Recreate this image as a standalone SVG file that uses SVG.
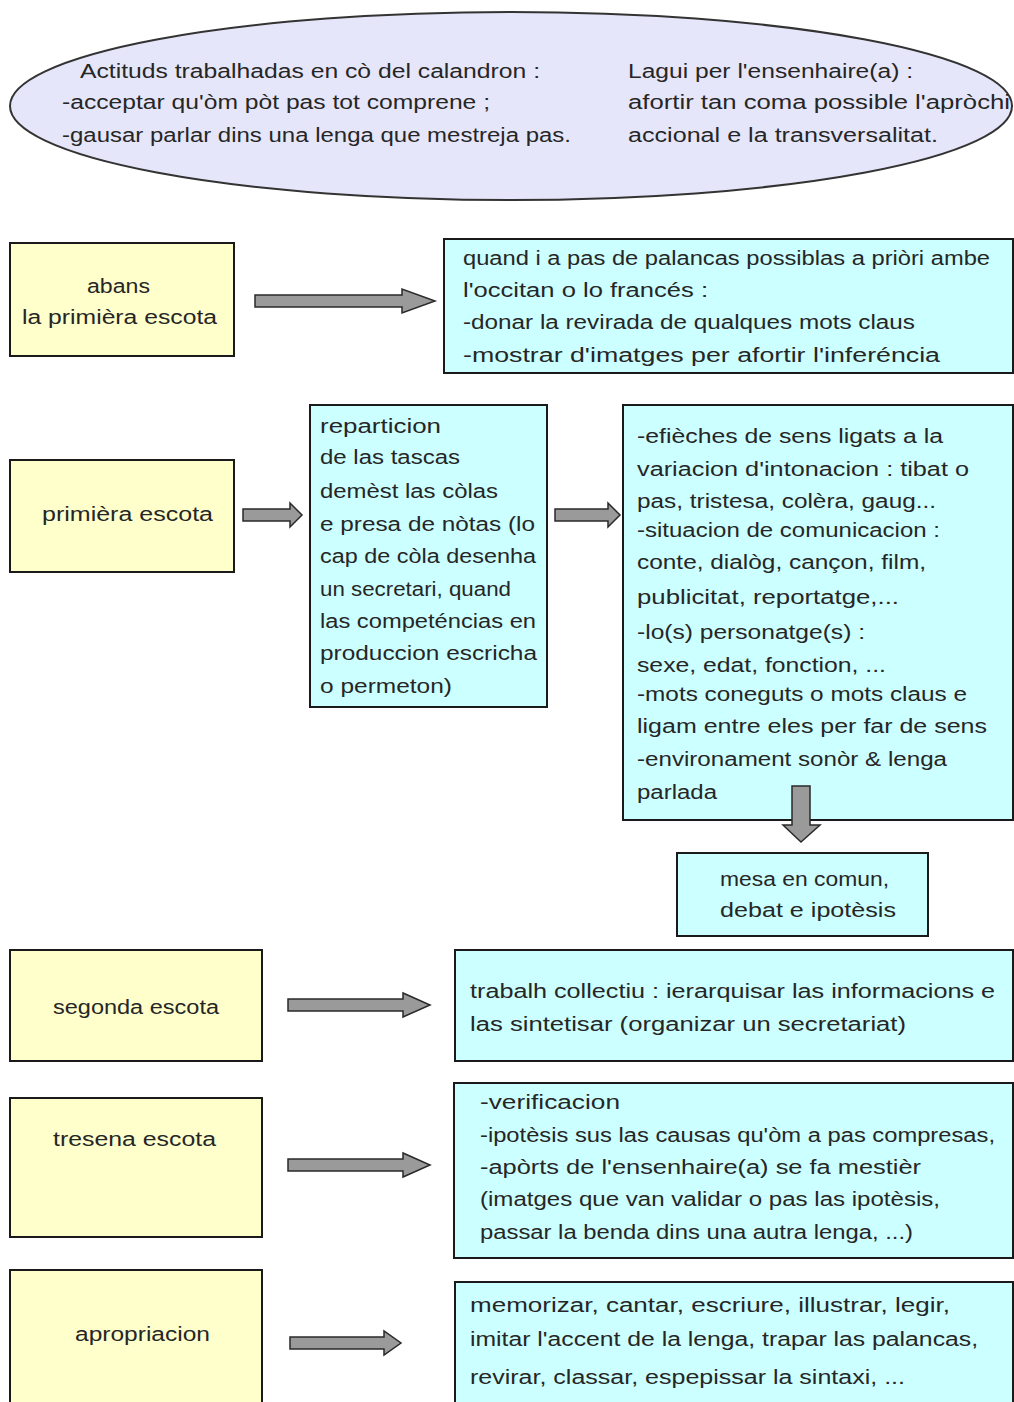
<svg xmlns="http://www.w3.org/2000/svg" width="1014" height="1402" viewBox="0 0 1014 1402">
<style>
text{font-family:"Liberation Sans","Open Sans",sans-serif;font-size:20px;fill:#262626}
.y{fill:#ffffcc;stroke:#1a1a1a;stroke-width:2}
.c{fill:#ccffff;stroke:#1a1a1a;stroke-width:2}
.arr{fill:#9a9a9a;stroke:#2a2a2a;stroke-width:1.5;stroke-linejoin:miter}
</style>
<rect width="1014" height="1402" fill="#ffffff"/>
<g id="header">
<ellipse cx="511" cy="106" rx="501" ry="94" fill="#e6e6fa" stroke="#333" stroke-width="2"/>
<text x="80" y="78" textLength="460" lengthAdjust="spacingAndGlyphs">Actituds trabalhadas en cò del calandron :</text>
<text x="62" y="109" textLength="428" lengthAdjust="spacingAndGlyphs">-acceptar qu'òm pòt pas tot comprene ;</text>
<text x="62" y="142" textLength="509" lengthAdjust="spacingAndGlyphs">-gausar parlar dins una lenga que mestreja pas.</text>
<text x="628" y="78" textLength="285" lengthAdjust="spacingAndGlyphs">Lagui per l'ensenhaire(a) :</text>
<text x="628" y="109" textLength="382" lengthAdjust="spacingAndGlyphs">afortir tan coma possible l'apròchi</text>
<text x="628" y="142" textLength="310" lengthAdjust="spacingAndGlyphs">accional e la transversalitat.</text>
</g>
<g id="abans">
<rect class="y" x="10" y="243" width="224" height="113"/>
<text x="87" y="293" textLength="63" lengthAdjust="spacingAndGlyphs">abans</text>
<text x="22" y="324" textLength="195" lengthAdjust="spacingAndGlyphs">la primièra escota</text>
</g>
<g id="abans-detail">
<rect class="c" x="444" y="239" width="569" height="134"/>
<text x="463" y="265" textLength="527" lengthAdjust="spacingAndGlyphs">quand i a pas de palancas possiblas a priòri ambe</text>
<text x="463" y="297" textLength="245" lengthAdjust="spacingAndGlyphs">l'occitan o lo francés :</text>
<text x="463" y="329" textLength="452" lengthAdjust="spacingAndGlyphs">-donar la revirada de qualques mots claus</text>
<text x="463" y="362" textLength="477" lengthAdjust="spacingAndGlyphs">-mostrar d'imatges per afortir l'inferéncia</text>
</g>
<g id="primiera">
<rect class="y" x="10" y="460" width="224" height="112"/>
<text x="42" y="521" textLength="171" lengthAdjust="spacingAndGlyphs">primièra escota</text>
</g>
<g id="reparticion">
<rect class="c" x="310" y="405" width="237" height="302"/>
<text x="320" y="433" textLength="121" lengthAdjust="spacingAndGlyphs">reparticion</text>
<text x="320" y="464" textLength="140" lengthAdjust="spacingAndGlyphs">de las tascas</text>
<text x="320" y="498" textLength="178" lengthAdjust="spacingAndGlyphs">demèst las còlas</text>
<text x="320" y="531" textLength="215" lengthAdjust="spacingAndGlyphs">e presa de nòtas (lo</text>
<text x="320" y="563" textLength="216" lengthAdjust="spacingAndGlyphs">cap de còla desenha</text>
<text x="320" y="596" textLength="191" lengthAdjust="spacingAndGlyphs">un secretari, quand</text>
<text x="320" y="628" textLength="216" lengthAdjust="spacingAndGlyphs">las competéncias en</text>
<text x="320" y="660" textLength="217" lengthAdjust="spacingAndGlyphs">produccion escricha</text>
<text x="320" y="693" textLength="132" lengthAdjust="spacingAndGlyphs">o permeton)</text>
</g>
<g id="efieches">
<rect class="c" x="623" y="405" width="390" height="415"/>
<text x="637" y="443" textLength="306" lengthAdjust="spacingAndGlyphs">-efièches de sens ligats a la</text>
<text x="637" y="476" textLength="332" lengthAdjust="spacingAndGlyphs">variacion d'intonacion : tibat o</text>
<text x="637" y="508" textLength="299" lengthAdjust="spacingAndGlyphs">pas, tristesa, colèra, gaug...</text>
<text x="637" y="537" textLength="303" lengthAdjust="spacingAndGlyphs">-situacion de comunicacion :</text>
<text x="637" y="569" textLength="289" lengthAdjust="spacingAndGlyphs">conte, dialòg, cançon, film,</text>
<text x="637" y="604" textLength="262" lengthAdjust="spacingAndGlyphs">publicitat, reportatge,...</text>
<text x="637" y="639" textLength="228" lengthAdjust="spacingAndGlyphs">-lo(s) personatge(s) :</text>
<text x="637" y="672" textLength="249" lengthAdjust="spacingAndGlyphs">sexe, edat, fonction, ...</text>
<text x="637" y="701" textLength="330" lengthAdjust="spacingAndGlyphs">-mots coneguts o mots claus e</text>
<text x="637" y="733" textLength="350" lengthAdjust="spacingAndGlyphs">ligam entre eles per far de sens</text>
<text x="637" y="766" textLength="310" lengthAdjust="spacingAndGlyphs">-environament sonòr &amp; lenga</text>
<text x="637" y="799" textLength="80" lengthAdjust="spacingAndGlyphs">parlada</text>
</g>
<g id="mesa">
<rect class="c" x="677" y="853" width="251" height="83"/>
<text x="720" y="886" textLength="169" lengthAdjust="spacingAndGlyphs">mesa en comun,</text>
<text x="720" y="917" textLength="176" lengthAdjust="spacingAndGlyphs">debat e ipotèsis</text>
</g>
<g id="segonda">
<rect class="y" x="10" y="950" width="252" height="111"/>
<text x="53" y="1014" textLength="166" lengthAdjust="spacingAndGlyphs">segonda escota</text>
</g>
<g id="segonda-detail">
<rect class="c" x="455" y="950" width="558" height="111"/>
<text x="470" y="998" textLength="525" lengthAdjust="spacingAndGlyphs">trabalh collectiu : ierarquisar las informacions e</text>
<text x="470" y="1031" textLength="436" lengthAdjust="spacingAndGlyphs">las sintetisar (organizar un secretariat)</text>
</g>
<g id="tresena">
<rect class="y" x="10" y="1098" width="252" height="139"/>
<text x="53" y="1146" textLength="163" lengthAdjust="spacingAndGlyphs">tresena escota</text>
</g>
<g id="tresena-detail">
<rect class="c" x="454" y="1083" width="559" height="175"/>
<text x="480" y="1109" textLength="140" lengthAdjust="spacingAndGlyphs">-verificacion</text>
<text x="480" y="1142" textLength="515" lengthAdjust="spacingAndGlyphs">-ipotèsis sus las causas qu'òm a pas compresas,</text>
<text x="480" y="1174" textLength="441" lengthAdjust="spacingAndGlyphs">-apòrts de l'ensenhaire(a) se fa mestièr</text>
<text x="480" y="1206" textLength="460" lengthAdjust="spacingAndGlyphs">(imatges que van validar o pas las ipotèsis,</text>
<text x="480" y="1239" textLength="433" lengthAdjust="spacingAndGlyphs">passar la benda dins una autra lenga, ...)</text>
</g>
<g id="apropriacion">
<rect class="y" x="10" y="1270" width="252" height="140"/>
<text x="75" y="1341" textLength="135" lengthAdjust="spacingAndGlyphs">apropriacion</text>
</g>
<g id="apropriacion-detail">
<rect class="c" x="455" y="1282" width="558" height="128"/>
<text x="470" y="1312" textLength="480" lengthAdjust="spacingAndGlyphs">memorizar, cantar, escriure, illustrar, legir,</text>
<text x="470" y="1346" textLength="508" lengthAdjust="spacingAndGlyphs">imitar l'accent de la lenga, trapar las palancas,</text>
<text x="470" y="1384" textLength="435" lengthAdjust="spacingAndGlyphs">revirar, classar, espepissar la sintaxi, ...</text>
</g>
<g id="connectors">
<path class="arr" d="M255,295 H402 V289 L435,301 L402,313 V307 H255 Z"/>
<path class="arr" d="M243,509 H290 V503 L302,515 L290,527 V521 H243 Z"/>
<path class="arr" d="M555,509 H608 V503 L620,515 L608,527 V521 H555 Z"/>
<path class="arr" d="M792,786 H810 V825 H820 L801,842 L783,825 H792 Z"/>
<path class="arr" d="M288,999 H403 V993 L430,1005 L403,1017 V1011 H288 Z"/>
<path class="arr" d="M288,1159 H403 V1153 L430,1165 L403,1177 V1171 H288 Z"/>
<path class="arr" d="M290,1337 H384 V1331 L401,1343 L384,1355 V1349 H290 Z"/>
</g>
</svg>
